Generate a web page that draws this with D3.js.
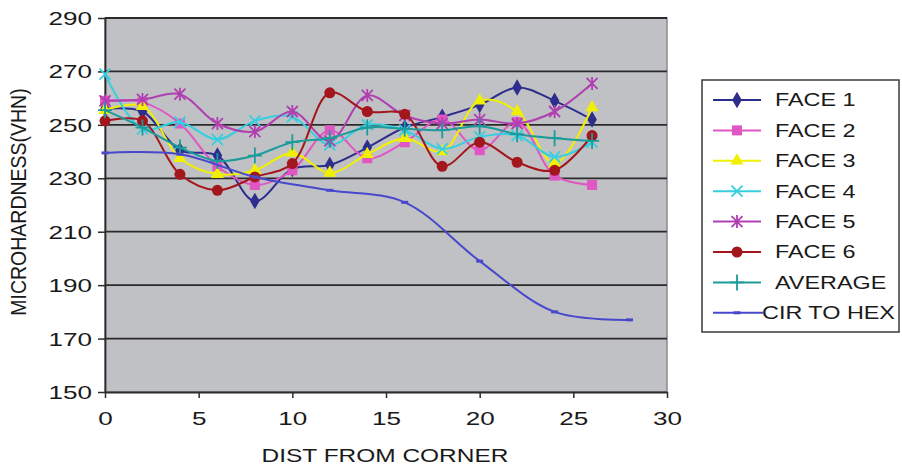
<!DOCTYPE html>
<html>
<head>
<meta charset="utf-8">
<script src="https://cdn.jsdelivr.net/npm/d3@7"></script>
<style>
  html, body { margin: 0; padding: 0; background: #ffffff; }
  svg { display: block; }
  text { font-family: "Liberation Sans", Arial, sans-serif; fill: #1a1a1a; }
</style>
</head>
<body>
<svg id="chart" width="902" height="468"></svg>
<script>
// Distance from corner at which each face was measured
const dist = [0, 2, 4, 6, 8, 10, 12, 14, 16, 18, 20, 22, 24, 26];

// Microhardness (VHN) per face
const face1 = [256, 255, 240.5, 238.5, 221.5, 233.5, 235, 241.5, 249, 253, 257.5, 264, 259, 252];
const face2 = [259, 258.5, 250.5, 234.5, 227.5, 233, 248, 237.5, 243.5, 252, 240.5, 251, 231, 227.5];
const face3 = [255.5, 257, 237.5, 231.5, 233, 239.5, 232, 239, 245, 240, 259, 255, 235.5, 256.5];
const face4 = [269, 248.5, 251, 244.5, 251.5, 253, 242.5, 250, 248, 241, 245.5, 246, 238, 243.5];
const face5 = [259, 259.5, 261.5, 250.5, 247.5, 255, 244, 261, 253.5, 250.5, 252, 250.5, 255, 265.5];
const face6 = [251.5, 251.5, 231.5, 225.5, 230.5, 235.5, 262, 255, 254, 234.5, 243.5, 236, 233, 246];
const average = [255.5, 249, 241.5, 236.5, 238.5, 243.5, 245, 249, 248.5, 248, 249.5, 246.5, 245, 244];

// Circle-to-hexagon transition profile
const cirDist = [0, 4, 8, 12, 16, 20, 24, 28];
const cirToHex = [239.5, 239, 230.5, 225.5, 221, 199, 180, 177];

const seriesNames = ["FACE 1", "FACE 2", "FACE 3", "FACE 4", "FACE 5", "FACE 6", "AVERAGE", "CIR TO HEX"];
const seriesColors = ["#2d2d8c", "#e056c2", "#f0f000", "#35cfe0", "#b03fb0", "#a3161b", "#1b9b9b", "#4848cc"];
const seriesMarkers = ["diamond", "square", "triangle", "x", "star", "circle", "plus", "dash"];

const yTicks = [150, 170, 190, 210, 230, 250, 270, 290];
const xTicks = [0, 5, 10, 15, 20, 25, 30];

// horizontal stretch of the lettering
const SX_TICK = 1.45;
const SX_TITLE = 1.36;
const SX_LEGEND = 1.3;

const svg = d3.select("#chart");
const plot = { left: 105, right: 667, top: 18, bottom: 392 };

const x = d3.scaleLinear().domain([0, 30]).range([plot.left, plot.right]);
const y = d3.scaleLinear().domain([150, 290]).range([plot.bottom, plot.top]);

// plot area
svg.append("rect")
  .attr("x", plot.left).attr("y", plot.top)
  .attr("width", plot.right - plot.left).attr("height", plot.bottom - plot.top)
  .attr("fill", "#c0c1c4").attr("stroke", "#8a8a8a").attr("stroke-width", 1.5);

// horizontal gridlines
svg.append("g").selectAll("line")
  .data(yTicks.filter(t => t > 150))
  .join("line")
  .attr("x1", plot.left).attr("x2", plot.right)
  .attr("y1", d => y(d)).attr("y2", d => y(d))
  .attr("stroke", "#2b2b2b").attr("stroke-width", 1.8);

// y axis
const yAxis = svg.append("g")
  .attr("transform", `translate(${plot.left},0)`)
  .call(d3.axisLeft(y).tickValues(yTicks).tickSize(7).tickSizeOuter(0));
yAxis.select(".domain").attr("stroke", "#2b2b2b").attr("stroke-width", 1.8);
yAxis.selectAll(".tick line").attr("stroke", "#2b2b2b").attr("stroke-width", 1.5);
yAxis.selectAll(".tick text")
  .attr("font-size", 18).attr("font-family", "Liberation Sans, Arial, sans-serif")
  .attr("fill", "#1a1a1a")
  .attr("x", -13 / SX_TICK).attr("dy", "0.36em")
  .attr("transform", `scale(${SX_TICK},1)`);

// x axis
const xAxis = svg.append("g")
  .attr("transform", `translate(0,${plot.bottom})`)
  .call(d3.axisBottom(x).tickValues(xTicks).tickSize(6).tickSizeOuter(0));
xAxis.select(".domain").attr("stroke", "#2b2b2b").attr("stroke-width", 1.8);
xAxis.selectAll(".tick line").attr("stroke", "#2b2b2b").attr("stroke-width", 1.5);
xAxis.selectAll(".tick text")
  .attr("font-size", 18).attr("font-family", "Liberation Sans, Arial, sans-serif")
  .attr("fill", "#1a1a1a")
  .attr("y", 20).attr("dy", "0.71em")
  .attr("transform", `scale(${SX_TICK},1)`);

// axis titles
svg.append("text")
  .attr("transform", `translate(${(plot.left + plot.right) / 2 - 1},462) scale(${SX_TITLE},1)`)
  .attr("text-anchor", "middle").attr("font-size", 18)
  .text("DIST FROM CORNER");

svg.append("text")
  .attr("transform", `translate(26,${(plot.top + plot.bottom) / 2 - 3}) scale(1.1,1) rotate(-90)`)
  .attr("text-anchor", "middle").attr("font-size", 19.5)
  .text("MICROHARDNESS(VHN)");

// marker drawing
function drawMarker(g, type, color, cx, cy) {
  const s = 5.5;
  if (type === "diamond") {
    g.append("path").attr("d", d3.symbol(d3.symbolDiamond, 80)())
      .attr("transform", `translate(${cx},${cy})`).attr("fill", color);
  } else if (type === "square") {
    g.append("rect").attr("x", cx - 5).attr("y", cy - 5).attr("width", 10).attr("height", 10).attr("fill", color);
  } else if (type === "triangle") {
    g.append("path").attr("d", d3.symbol(d3.symbolTriangle, 75)())
      .attr("transform", `translate(${cx},${cy})`).attr("fill", color);
  } else if (type === "circle") {
    g.append("circle").attr("cx", cx).attr("cy", cy).attr("r", 5.5).attr("fill", color);
  } else if (type === "x" || type === "star") {
    g.append("path")
      .attr("d", `M${cx - s},${cy - s}L${cx + s},${cy + s}M${cx - s},${cy + s}L${cx + s},${cy - s}` +
        (type === "star" ? `M${cx},${cy - s - 1}L${cx},${cy + s + 1}` : ""))
      .attr("stroke", color).attr("stroke-width", 1.8).attr("fill", "none");
  } else if (type === "plus") {
    g.append("path")
      .attr("d", `M${cx},${cy - 8}L${cx},${cy + 8}M${cx - 7},${cy}L${cx + 7},${cy}`)
      .attr("stroke", color).attr("stroke-width", 1.8).attr("fill", "none");
  } else if (type === "dash") {
    g.append("path").attr("d", `M${cx - 3.5},${cy}L${cx + 3.5},${cy}`)
      .attr("stroke", color).attr("stroke-width", 3).attr("fill", "none");
  }
}

const allSeries = [
  { xs: dist, ys: face1 }, { xs: dist, ys: face2 }, { xs: dist, ys: face3 },
  { xs: dist, ys: face4 }, { xs: dist, ys: face5 }, { xs: dist, ys: face6 },
  { xs: dist, ys: average }, { xs: cirDist, ys: cirToHex }
];

const line = d3.line()
  .x(d => x(d[0])).y(d => y(d[1]))
  .curve(d3.curveCatmullRom.alpha(0.5));

const seriesG = svg.append("g");
allSeries.forEach((s, i) => {
  const pts = s.xs.map((v, k) => [v, s.ys[k]]);
  const g = seriesG.append("g");
  g.append("path").datum(pts).attr("d", line)
    .attr("fill", "none").attr("stroke", seriesColors[i]).attr("stroke-width", 2);
  pts.forEach(p => drawMarker(g, seriesMarkers[i], seriesColors[i], x(p[0]), y(p[1])));
});

// legend
const legend = svg.append("g");
legend.append("rect")
  .attr("x", 702).attr("y", 80).attr("width", 197).attr("height", 252)
  .attr("fill", "#ffffff").attr("stroke", "#3a3a3a").attr("stroke-width", 1.5);
seriesNames.forEach((name, i) => {
  const cy = 100 + i * 30.4;
  legend.append("line").attr("x1", 713).attr("x2", i === 7 ? 763 : 761)
    .attr("y1", cy).attr("y2", cy)
    .attr("stroke", seriesColors[i]).attr("stroke-width", 2);
  drawMarker(legend, seriesMarkers[i], seriesColors[i], 737, cy);
  legend.append("text")
    .attr("transform", `translate(${i === 7 ? 762 : 775},${cy}) scale(${SX_LEGEND},1)`)
    .attr("dy", "0.36em").attr("font-size", 18)
    .text(name);
});
</script>
</body>
</html>
